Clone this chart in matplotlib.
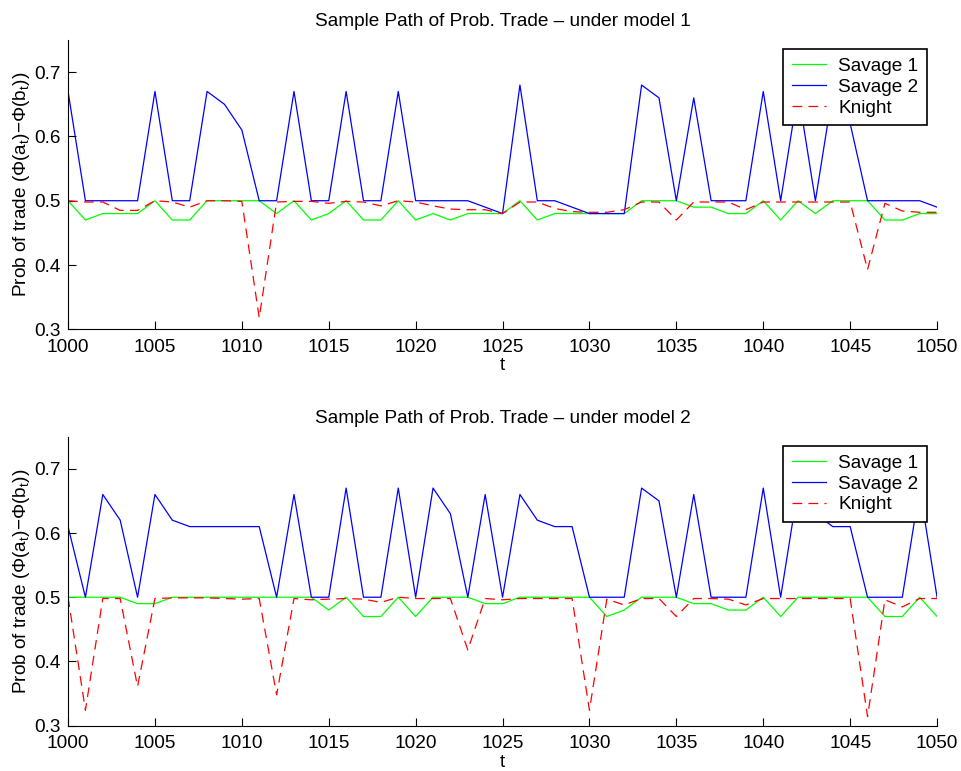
import matplotlib
matplotlib.use("Agg")
import matplotlib.pyplot as plt
import numpy as np

plt.rcParams['font.family'] = ['Liberation Sans', 'DejaVu Sans']
plt.rcParams['mathtext.fontset'] = 'custom'
plt.rcParams['mathtext.rm'] = 'Liberation Sans'
plt.rcParams['lines.scale_dashes'] = False

FONT_SIZE = 13.7

t = np.arange(1000, 1051)

# model 1
savage1_m1 = [0.50, 0.47, 0.48, 0.48, 0.48, 0.50, 0.47, 0.47, 0.50, 0.50,
              0.50, 0.50, 0.48, 0.50, 0.47, 0.48, 0.50, 0.47, 0.47, 0.50,
              0.47, 0.48, 0.47, 0.48, 0.48, 0.48, 0.50, 0.47, 0.48, 0.48,
              0.48, 0.48, 0.48, 0.50, 0.50, 0.50, 0.49, 0.49, 0.48, 0.48,
              0.50, 0.47, 0.50, 0.48, 0.50, 0.50, 0.50, 0.47, 0.47, 0.48,
              0.48]
savage2_m1 = [0.67, 0.50, 0.50, 0.50, 0.50, 0.67, 0.50, 0.50, 0.67, 0.65,
              0.61, 0.50, 0.50, 0.67, 0.50, 0.50, 0.67, 0.50, 0.50, 0.67,
              0.50, 0.50, 0.50, 0.50, 0.49, 0.48, 0.68, 0.50, 0.50, 0.49,
              0.48, 0.48, 0.48, 0.68, 0.66, 0.50, 0.66, 0.50, 0.50, 0.50,
              0.67, 0.50, 0.67, 0.50, 0.67, 0.62, 0.50, 0.50, 0.50, 0.50,
              0.49]
knight_m1 = [0.500, 0.498, 0.498, 0.485, 0.485, 0.500, 0.498, 0.490, 0.500, 0.500,
             0.499, 0.318, 0.498, 0.499, 0.499, 0.496, 0.499, 0.498, 0.492, 0.500,
             0.498, 0.492, 0.487, 0.486, 0.486, 0.480, 0.498, 0.498, 0.488, 0.483,
             0.482, 0.482, 0.486, 0.498, 0.498, 0.470, 0.498, 0.498, 0.498, 0.486,
             0.498, 0.498, 0.498, 0.498, 0.498, 0.498, 0.393, 0.496, 0.484, 0.482,
             0.482]

# model 2
savage1_m2 = [0.50, 0.50, 0.50, 0.50, 0.49, 0.49, 0.50, 0.50, 0.50, 0.50,
              0.50, 0.50, 0.50, 0.50, 0.50, 0.48, 0.50, 0.47, 0.47, 0.50,
              0.47, 0.50, 0.50, 0.50, 0.49, 0.49, 0.50, 0.50, 0.50, 0.50,
              0.50, 0.47, 0.48, 0.50, 0.50, 0.50, 0.49, 0.49, 0.48, 0.48,
              0.50, 0.47, 0.50, 0.50, 0.50, 0.50, 0.50, 0.47, 0.47, 0.50,
              0.47]
savage2_m2 = [0.61, 0.50, 0.66, 0.62, 0.50, 0.66, 0.62, 0.61, 0.61, 0.61,
              0.61, 0.61, 0.50, 0.66, 0.50, 0.50, 0.67, 0.50, 0.50, 0.67,
              0.50, 0.67, 0.63, 0.50, 0.66, 0.50, 0.66, 0.62, 0.61, 0.61,
              0.50, 0.50, 0.50, 0.67, 0.65, 0.50, 0.66, 0.50, 0.50, 0.50,
              0.67, 0.50, 0.67, 0.63, 0.61, 0.61, 0.50, 0.50, 0.50, 0.67,
              0.50]
knight_m2 = [0.500, 0.324, 0.498, 0.498, 0.361, 0.498, 0.499, 0.499, 0.499, 0.498,
             0.497, 0.498, 0.348, 0.498, 0.496, 0.497, 0.498, 0.497, 0.492, 0.500,
             0.498, 0.498, 0.498, 0.418, 0.498, 0.496, 0.498, 0.498, 0.498, 0.498,
             0.324, 0.497, 0.488, 0.498, 0.498, 0.470, 0.498, 0.498, 0.497, 0.488,
             0.498, 0.498, 0.498, 0.498, 0.498, 0.498, 0.314, 0.496, 0.485, 0.498,
             0.498]

series_labels = ['Savage 1', 'Savage 2', 'Knight']
x_ticks = np.arange(1000, 1051, 5)
y_ticks = [0.3, 0.4, 0.5, 0.6, 0.7]
y_label = r'Prob of trade (Φ(a$_\mathregular{t}$)−Φ(b$_\mathregular{t}$))'


def panel(axis, s1, s2, kn, title):
  axis.plot(t, s1, color=(0, 1, 0), lw=0.9, label=series_labels[0])
  axis.plot(t, s2, color=(0, 0, 1), lw=0.9, label=series_labels[1])
  axis.plot(t, kn, color=(1, 0, 0), lw=0.9, dashes=(7, 4.5), label=series_labels[2])

  axis.set_xlim(1000, 1050)
  axis.set_ylim(0.3, 0.75)
  axis.set_xticks(x_ticks)
  axis.set_yticks(y_ticks)
  axis.tick_params(direction='in', length=6, width=0.8, labelsize=FONT_SIZE)
  axis.tick_params(axis='x', pad=7)
  axis.tick_params(axis='y', pad=5)
  for side in ('top', 'right'):
    axis.spines[side].set_visible(False)
  for side in ('left', 'bottom'):
    axis.spines[side].set_linewidth(0.8)

  axis.set_title(title, fontsize=FONT_SIZE, pad=10)
  axis.set_xlabel('t', fontsize=FONT_SIZE, labelpad=1)
  axis.set_ylabel(y_label, fontsize=FONT_SIZE, labelpad=2)

  leg = axis.legend(loc='upper right', bbox_to_anchor=(0.9885, 0.968),
                    borderaxespad=0, fontsize=FONT_SIZE, fancybox=False,
                    edgecolor='black', framealpha=1, handlelength=1.8,
                    handletextpad=0.65, labelspacing=0.18, borderpad=0.45)
  leg.get_frame().set_linewidth(1.2)


fig = plt.figure(figsize=(9.61, 7.71), dpi=100)
top = fig.add_axes([0.0708, 0.5729, 0.9043, 0.3752])
bottom = fig.add_axes([0.0708, 0.0588, 0.9043, 0.3748])

panel(top, savage1_m1, savage2_m1, knight_m1, 'Sample Path of Prob. Trade – under model 1')
panel(bottom, savage1_m2, savage2_m2, knight_m2, 'Sample Path of Prob. Trade – under model 2')

fig.savefig('out.png', dpi=100)
